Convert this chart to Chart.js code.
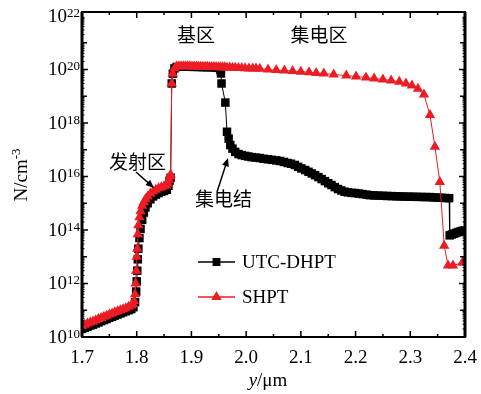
<!DOCTYPE html>
<html>
<head>
<meta charset="utf-8">
<script src="https://cdn.jsdelivr.net/npm/chart.js@4.4.0/dist/chart.umd.min.js"></script>
<style>
  html, body { margin: 0; padding: 0; background: #fff; }
</style>
</head>
<body>
<canvas id="chart" width="481" height="394"></canvas>
<script>
// --- Data ---
const seriesNames = ['UTC-DHPT', 'SHPT'];

// UTC-DHPT, position (um) and concentration (cm^-3)
const utcX = [
  1.700, 1.705, 1.710, 1.715, 1.720, 1.725, 1.730, 1.735, 1.740, 1.745,
  1.750, 1.755, 1.760, 1.765, 1.770, 1.775, 1.780, 1.785, 1.790, 1.794,
  1.797, 1.799, 1.800, 1.801, 1.802, 1.803, 1.805, 1.807, 1.810, 1.813,
  1.816, 1.820, 1.825, 1.830, 1.835, 1.840, 1.845, 1.850, 1.855, 1.858,
  1.860, 1.862, 1.864, 1.866, 1.869, 1.873, 1.880, 1.888, 1.896, 1.904,
  1.912, 1.920, 1.928, 1.936, 1.944, 1.950, 1.953, 1.954, 1.955, 1.962,
  1.965, 1.968, 1.971, 1.975, 1.980, 1.986, 1.992, 1.998, 2.004, 2.010,
  2.017, 2.025, 2.032, 2.040, 2.047, 2.055, 2.062, 2.069, 2.076, 2.082,
  2.089, 2.095, 2.101, 2.108, 2.114, 2.120, 2.126, 2.132, 2.138, 2.144,
  2.150, 2.156, 2.162, 2.168, 2.174, 2.180, 2.186, 2.193, 2.199, 2.206,
  2.213, 2.220, 2.226, 2.234, 2.242, 2.250, 2.258, 2.266, 2.274, 2.281,
  2.289, 2.297, 2.305, 2.313, 2.321, 2.329, 2.336, 2.343, 2.350, 2.357,
  2.363, 2.371, 2.372, 2.376, 2.380, 2.384, 2.388, 2.392, 2.396, 2.400
];
const utcY = [
  2.0e10, 2.2e10, 2.4e10, 2.7e10, 2.9e10, 3.2e10, 3.5e10, 3.9e10, 4.3e10, 4.7e10,
  5.2e10, 5.7e10, 6.3e10, 6.9e10, 7.6e10, 8.4e10, 9.2e10, 1.0e11, 1.1e11, 1.3e11,
  2.0e11, 5.0e11, 1.2e12, 3.0e12, 8.0e12, 2.0e13, 5.0e13, 1.1e14, 2.4e14, 4.5e14,
  7.0e14, 1.0e15, 1.4e15, 1.8e15, 2.1e15, 2.4e15, 2.7e15, 2.9e15, 3.2e15, 4.5e15,
  7.0e15, 9.0e15, 3.0e19, 7.0e19, 1.1e20, 1.25e20, 1.28e20, 1.27e20, 1.26e20, 1.25e20,
  1.24e20, 1.22e20, 1.21e20, 1.2e20, 1.18e20, 1.15e20, 9.5e19, 7.1e19, 3.0e19, 5.8e18,
  4.7e17, 2.6e17, 1.5e17, 1.1e17, 8.3e16, 6.9e16, 6.3e16, 5.9e16, 5.6e16, 5.3e16,
  5.1e16, 4.9e16, 4.6e16, 4.4e16, 4.2e16, 4.0e16, 3.8e16, 3.5e16, 3.2e16, 3.0e16,
  2.7e16, 2.3e16, 2.0e16, 1.74e16, 1.5e16, 1.3e16, 1.12e16, 9.5e15, 8.0e15, 6.7e15,
  5.6e15, 4.8e15, 4.0e15, 3.4e15, 3.0e15, 2.7e15, 2.55e15, 2.45e15, 2.4e15, 2.3e15,
  2.2e15, 2.1e15, 2.0e15, 1.96e15, 1.93e15, 1.9e15, 1.87e15, 1.85e15, 1.82e15, 1.8e15,
  1.78e15, 1.76e15, 1.75e15, 1.73e15, 1.72e15, 1.7e15, 1.7e15, 1.65e15, 1.62e15, 1.6e15,
  1.57e15, 1.55e15, 6.3e13, 6.8e13, 7.3e13, 7.8e13, 8.4e13, 8.9e13, 9.4e13, 9.6e13
];

// SHPT
const shptX = [
  1.700, 1.705, 1.710, 1.715, 1.720, 1.725, 1.730, 1.735, 1.740, 1.745,
  1.750, 1.755, 1.760, 1.765, 1.770, 1.775, 1.780, 1.785, 1.790, 1.793,
  1.795, 1.797, 1.798, 1.799, 1.800, 1.801, 1.802, 1.803, 1.805, 1.807,
  1.810, 1.813, 1.816, 1.820, 1.825, 1.830, 1.835, 1.840, 1.845, 1.850,
  1.854, 1.857, 1.859, 1.861, 1.862, 1.864, 1.866, 1.869, 1.873, 1.877,
  1.881, 1.885, 1.889, 1.893, 1.897, 1.901, 1.905, 1.909, 1.913, 1.917,
  1.921, 1.925, 1.929, 1.933, 1.937, 1.941, 1.945, 1.949, 1.953, 1.957,
  1.961, 1.965, 1.970, 1.975, 1.980, 1.986, 1.992, 1.998, 2.005, 2.012,
  2.018, 2.025, 2.040, 2.055, 2.070, 2.085, 2.100, 2.115, 2.128, 2.142,
  2.160, 2.183, 2.201, 2.219, 2.234, 2.250, 2.265, 2.280, 2.292, 2.303,
  2.314, 2.325, 2.336, 2.345, 2.354, 2.362, 2.369, 2.378, 2.395
];
const shptY = [
  2.6e10, 2.9e10, 3.2e10, 3.5e10, 3.8e10, 4.2e10, 4.7e10, 5.1e10, 5.7e10, 6.2e10,
  6.9e10, 7.6e10, 8.4e10, 9.2e10, 1.0e11, 1.1e11, 1.2e11, 1.35e11, 1.5e11, 1.7e11,
  2.2e11, 4.0e11, 1.0e12, 3.0e12, 1.0e13, 2.0e13, 7.0e13, 1.5e14, 3.0e14, 5.0e14,
  8.0e14, 1.1e15, 1.4e15, 1.8e15, 2.3e15, 2.8e15, 3.2e15, 3.6e15, 4.0e15, 4.3e15,
  4.6e15, 5.5e15, 7.5e15, 1.0e16, 1.2e16, 3.0e19, 7.0e19, 1.1e20, 1.3e20, 1.32e20,
  1.33e20, 1.33e20, 1.32e20, 1.32e20, 1.31e20, 1.3e20, 1.3e20, 1.29e20, 1.28e20, 1.28e20,
  1.27e20, 1.26e20, 1.26e20, 1.25e20, 1.24e20, 1.24e20, 1.23e20, 1.22e20, 1.21e20, 1.21e20,
  1.2e20, 1.19e20, 1.18e20, 1.17e20, 1.16e20, 1.14e20, 1.13e20, 1.12e20, 1.1e20, 1.09e20,
  1.08e20, 1.07e20, 1.0e20, 9.5e19, 9.1e19, 8.7e19, 8.3e19, 7.9e19, 7.4e19, 7.1e19,
  6.5e19, 5.9e19, 5.5e19, 5.0e19, 4.6e19, 4.2e19, 3.9e19, 3.5e19, 3.0e19, 2.5e19,
  1.9e19, 1.15e19, 2.0e18, 1.3e17, 6.2e15, 2.6e13, 4.7e12, 4.7e12, 6.0e12
];

// Axis ticks
const xTicks = [1.7, 1.8, 1.9, 2.0, 2.1, 2.2, 2.3, 2.4];
const yTickExps = [10, 12, 14, 16, 18, 20, 22];

// Region labels
const regionLabels = ['基区', '集电区', '发射区', '集电结'];

// --- Style ---
const RED = '#ec1c24';
const SERIF = '"Liberation Serif", "DejaVu Serif", serif';
const CJK = '"Noto Sans CJK SC", sans-serif';

function toPoints(xs, ys) {
    return xs.map((x, i) => ({ x: x, y: ys[i] }));
}

function arrow(ctx, x1, y1, x2, y2) {
    const ang = Math.atan2(y2 - y1, x2 - x1);
    const len = 9;
    ctx.beginPath();
    ctx.moveTo(x1, y1);
    ctx.lineTo(x2 - Math.cos(ang) * len * 0.6, y2 - Math.sin(ang) * len * 0.6);
    ctx.stroke();
    ctx.beginPath();
    ctx.moveTo(x2, y2);
    ctx.lineTo(x2 - len * Math.cos(ang - 0.4), y2 - len * Math.sin(ang - 0.4));
    ctx.lineTo(x2 - len * Math.cos(ang + 0.4), y2 - len * Math.sin(ang + 0.4));
    ctx.closePath();
    ctx.fill();
}

// Frame, inward ticks, labels, legend and annotations
const framePlugin = {
    id: 'frame',
    afterDraw(chart) {
        const { ctx, chartArea: a, scales } = chart;
        const xs = scales.x, ys = scales.y;
        ctx.save();
        ctx.strokeStyle = '#000';
        ctx.fillStyle = '#000';

        // x ticks (bottom and top, pointing in)
        ctx.lineWidth = 1.5;
        xTicks.forEach((t, i) => {
            const px = xs.getPixelForValue(t);
            ctx.beginPath();
            ctx.moveTo(px, a.bottom); ctx.lineTo(px, a.bottom - 6);
            ctx.moveTo(px, a.top); ctx.lineTo(px, a.top + 6);
            ctx.stroke();
            if (i < xTicks.length - 1) {
                const pm = xs.getPixelForValue((t + xTicks[i + 1]) / 2);
                ctx.beginPath();
                ctx.moveTo(pm, a.bottom); ctx.lineTo(pm, a.bottom - 3);
                ctx.moveTo(pm, a.top); ctx.lineTo(pm, a.top + 3);
                ctx.stroke();
            }
        });

        // y ticks (left and right, pointing in)
        for (let e = yTickExps[0]; e < yTickExps[yTickExps.length - 1]; e++) {
            for (let m = 1; m < 10; m++) {
                const py = ys.getPixelForValue(m * Math.pow(10, e));
                let len = 2.5;
                if (m === 1) len = (e % 2 === 0) ? 6 : 5;
                ctx.lineWidth = m === 1 ? 1.5 : 1;
                ctx.beginPath();
                ctx.moveTo(a.left, py); ctx.lineTo(a.left + len, py);
                ctx.moveTo(a.right, py); ctx.lineTo(a.right - len, py);
                ctx.stroke();
            }
        }

        // frame
        ctx.lineWidth = 2;
        ctx.strokeRect(a.left, a.top, a.right - a.left, a.bottom - a.top);
        ctx.lineWidth = 3;
        ctx.beginPath();
        ctx.moveTo(a.left, a.top); ctx.lineTo(a.left, a.bottom);
        ctx.moveTo(a.right, a.top); ctx.lineTo(a.right, a.bottom);
        ctx.stroke();

        // x tick labels
        ctx.font = '19px ' + SERIF;
        ctx.textAlign = 'center';
        ctx.textBaseline = 'alphabetic';
        xTicks.forEach(t => {
            ctx.fillText(t.toFixed(1), xs.getPixelForValue(t), 363);
        });

        // y tick labels, 10 with superscript exponent
        yTickExps.forEach(e => {
            const py = ys.getPixelForValue(Math.pow(10, e));
            ctx.textAlign = 'right';
            ctx.font = '13px ' + SERIF;
            const sup = String(e);
            const sw = ctx.measureText(sup).width;
            ctx.fillText(sup, a.left - 2, py + 1);
            ctx.font = '19px ' + SERIF;
            ctx.fillText('10', a.left - 2 - sw, py + 6);
        });

        // y axis title
        ctx.save();
        ctx.translate(27, 175);
        ctx.rotate(-Math.PI / 2);
        ctx.font = '19px ' + SERIF;
        const mainW = ctx.measureText('N/cm').width;
        ctx.font = '13px ' + SERIF;
        const supW = ctx.measureText('-3').width;
        const start = -(mainW + supW) / 2;
        ctx.textAlign = 'left';
        ctx.font = '19px ' + SERIF;
        ctx.fillText('N/cm', start, 0);
        ctx.font = '13px ' + SERIF;
        ctx.fillText('-3', start + mainW, -7);
        ctx.restore();

        // x axis title
        ctx.textAlign = 'left';
        ctx.font = 'italic 19px ' + SERIF;
        const yW = ctx.measureText('y').width;
        ctx.font = '19px ' + SERIF;
        const restW = ctx.measureText('/μm').width;
        const x0 = 268 - (yW + restW) / 2;
        ctx.font = 'italic 19px ' + SERIF;
        ctx.fillText('y', x0, 386);
        ctx.font = '19px ' + SERIF;
        ctx.fillText('/μm', x0 + yW, 386);

        // legend
        const legendRows = [262, 297];
        chart.data.datasets.forEach((ds, i) => {
            const ly = legendRows[i];
            ctx.strokeStyle = ds.borderColor;
            ctx.lineWidth = 1.5;
            ctx.beginPath();
            ctx.moveTo(198, ly); ctx.lineTo(235, ly);
            ctx.stroke();
            ctx.fillStyle = ds.pointBackgroundColor;
            ctx.strokeStyle = ds.pointBorderColor;
            Chart.helpers.drawPoint(ctx, {
                pointStyle: ds.pointStyle, radius: 4.5,
                rotation: 0, borderWidth: 1
            }, 216.5, ly);
            ctx.fillStyle = '#000';
            ctx.font = '19px ' + SERIF;
            ctx.textAlign = 'left';
            ctx.textBaseline = 'middle';
            ctx.fillText(seriesNames[i], 242, ly + 1);
        });

        // region annotations
        ctx.fillStyle = '#000';
        ctx.strokeStyle = '#000';
        ctx.font = '19px ' + CJK;
        ctx.textBaseline = 'middle';
        ctx.textAlign = 'center';
        ctx.fillText(regionLabels[0], 196, 35);
        ctx.fillText(regionLabels[1], 319, 35);
        ctx.textAlign = 'left';
        ctx.fillText(regionLabels[2], 109, 162);
        ctx.fillText(regionLabels[3], 195, 199);
        ctx.lineWidth = 1.5;
        arrow(ctx, 136, 172, 154, 188);
        arrow(ctx, 217, 192, 228, 158);

        ctx.restore();
    }
};

// --- Chart ---
const ctx = document.getElementById('chart').getContext('2d');
new Chart(ctx, {
    type: 'line',
    data: {
        datasets: [
            {
                label: seriesNames[0],
                data: toPoints(utcX, utcY),
                borderColor: '#000',
                borderWidth: 1,
                pointStyle: 'rect',
                pointRadius: 6,
                pointBackgroundColor: '#000',
                pointBorderColor: '#000',
                pointBorderWidth: 0,
                order: 1
            },
            {
                label: seriesNames[1],
                data: toPoints(shptX, shptY),
                borderColor: RED,
                borderWidth: 1,
                pointStyle: 'triangle',
                pointRadius: 6,
                pointBackgroundColor: RED,
                pointBorderColor: RED,
                pointBorderWidth: 0,
                order: 0
            }
        ]
    },
    options: {
        responsive: false,
        animation: false,
        layout: { padding: { left: 82, right: 16, top: 12, bottom: 57 } },
        plugins: {
            legend: { display: false },
            tooltip: { enabled: false }
        },
        scales: {
            x: { type: 'linear', min: 1.7, max: 2.4, display: false },
            y: { type: 'logarithmic', min: 1e10, max: 1.41e22, display: false }
        }
    },
    plugins: [framePlugin]
});
</script>
</body>
</html>
